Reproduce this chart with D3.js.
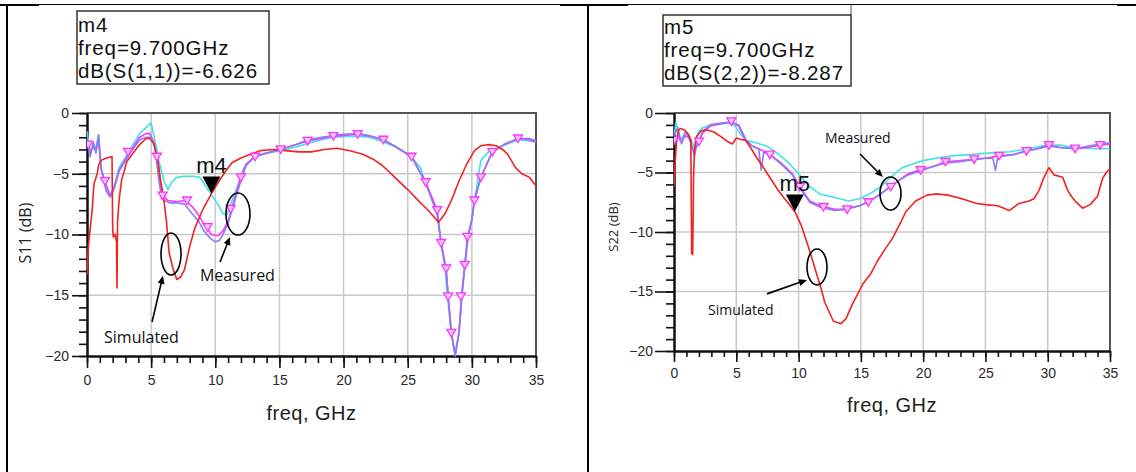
<!DOCTYPE html>
<html>
<head>
<meta charset="utf-8">
<script src="https://cdn.jsdelivr.net/npm/d3@7.9.0/dist/d3.min.js"></script>
<style>
  body { margin: 0; background: #fff; }
  svg { display: block; }
</style>
</head>
<body>
<div id="chart"></div>
<script>
// ---- S11 panel (left) ----
const s11SimF = [0, 0.1, 0.25, 0.4, 0.5, 0.55, 0.8, 0.9, 1.1, 1.5, 1.95, 2.0, 2.05, 2.2, 2.3, 2.34, 2.38, 2.5, 2.7, 2.9, 3.1, 3.6, 4.1, 4.6, 4.9, 5.2, 5.5, 5.7, 6.0, 6.2, 6.4, 6.7, 7.0, 7.3, 7.6, 8.0, 8.4, 9.0, 9.7, 10.3, 10.8, 11.3, 12.0, 12.5, 13.5, 14.5, 15.5, 16.5, 17.5, 18.5, 19.5, 20.5, 21.5, 22.3, 23.0, 24.0, 25.0, 26.0, 26.5, 27.0, 27.4, 27.9, 28.4, 29.0, 29.6, 30.2, 30.7, 31.3, 31.9, 32.4, 32.8, 33.4, 33.9, 34.5, 35];
const s11SimDb = [-13.3, -11, -9.5, -8, -6.5, -5.8, -5.0, -4.3, -3.9, -3.7, -3.6, -9.5, -10.2, -10.0, -10.6, -14.4, -9.0, -7.2, -5.5, -4.8, -4.0, -3.3, -2.6, -2.1, -2.1, -2.5, -3.8, -5.3, -7.2, -9.0, -11.5, -12.8, -13.7, -13.5, -12.9, -11.0, -9.5, -8.0, -6.63, -5.6, -4.8, -4.1, -3.7, -3.5, -3.1, -3.0, -3.1, -3.2, -3.2, -3.0, -2.9, -3.1, -3.4, -3.8, -4.3, -5.3, -6.3, -7.4, -7.9, -8.5, -9.0, -8.3, -7.2, -5.6, -4.2, -3.1, -2.7, -2.6, -2.7, -3.0, -3.4, -4.5, -5.0, -5.3, -6.0];

const s11CyanF = [0, 0.25, 0.5, 0.7, 0.9, 1.1, 1.5, 1.8, 2.1, 2.5, 3.3, 4.1, 4.6, 5.0, 5.3, 5.6, 6.0, 6.3, 6.6, 7.0, 7.6, 8.3, 8.8, 9.3, 9.8, 10.2, 10.6, 10.9, 11.2, 11.7, 12.2, 13.1, 14.0, 15.1, 16.3, 17.2, 18.3, 19.2, 20.0, 20.9, 22.0, 22.9, 24.1, 25.3, 26.0, 26.4, 26.9, 27.3, 27.6, 27.9, 28.1, 28.4, 28.7, 29.0, 29.2, 29.5, 29.7, 30.0, 30.2, 30.5, 30.7, 31.3, 32.2, 33.1, 33.8, 34.5, 35];
const s11CyanDb = [-1.5, -3.3, -2.5, -2.9, -1.8, -4.5, -6.4, -6.9, -6.1, -4.5, -3.1, -1.7, -1.2, -0.8, -2.3, -3.9, -5.6, -6.3, -5.7, -5.3, -5.2, -5.2, -5.3, -6.1, -6.9, -7.5, -8.3, -8.4, -7.5, -6.1, -4.6, -3.5, -3.3, -3.1, -2.8, -2.5, -2.2, -2.0, -1.95, -1.9, -2.0, -2.3, -2.8, -3.6, -4.5, -5.8, -7.0, -8.3, -10.7, -12.7, -15.1, -18.1, -19.9, -18.1, -15.0, -12.4, -10.2, -8.8, -7.2, -5.3, -3.9, -3.2, -2.8, -2.4, -2.2, -2.3, -2.4];

const s11MagF = [0, 0.25, 0.5, 0.7, 0.9, 1.1, 1.5, 1.8, 2.1, 2.5, 3.3, 4.1, 4.6, 4.9, 5.2, 5.5, 5.8, 6.0, 6.3, 7.0, 7.6, 8.2, 8.7, 9.1, 9.7, 10.2, 10.6, 11.0, 11.3, 11.9, 12.4, 13.1, 14.0, 15.1, 16.3, 17.2, 18.3, 19.2, 20.0, 21.1, 22.0, 23.1, 24.1, 25.3, 26.4, 27.3, 27.6, 28.0, 28.15, 28.4, 28.7, 29.0, 29.2, 29.45, 29.65, 30.0, 30.2, 30.7, 31.6, 32.5, 33.6, 34.5, 35];
const s11MagDb = [-2.5, -3.2, -2.8, -3.1, -2.2, -4.6, -5.9, -6.8, -6.2, -4.7, -3.3, -2.0, -1.7, -1.7, -2.4, -3.8, -6.3, -6.9, -7.2, -7.3, -7.2, -7.7, -8.4, -9.1, -10.0, -10.1, -9.7, -8.9, -7.8, -5.6, -4.2, -3.6, -3.3, -3.0, -2.6, -2.3, -2.1, -1.9, -1.85, -1.75, -1.9, -2.2, -2.8, -3.6, -5.7, -8.0, -10.7, -12.8, -15.1, -18.1, -19.9, -18.1, -15.0, -12.5, -10.2, -8.8, -7.2, -5.3, -3.2, -2.6, -2.1, -2.2, -2.4];

const s11PurF = [0, 0.25, 0.5, 0.7, 0.9, 1.1, 1.5, 1.8, 2.1, 2.5, 3.3, 4.1, 4.6, 5.0, 5.3, 5.6, 5.8, 6.0, 6.5, 7.0, 7.6, 8.2, 8.7, 9.1, 9.6, 10.0, 10.3, 10.6, 11.0, 11.3, 11.9, 12.4, 13.1, 14.0, 15.1, 16.3, 17.2, 18.3, 19.2, 20.0, 21.1, 22.0, 23.1, 24.1, 25.3, 26.4, 27.3, 27.6, 28.0, 28.4, 28.7, 29.0, 29.45, 29.7, 30.0, 30.2, 30.7, 31.6, 32.5, 33.6, 34.5, 35];
const s11PurDb = [-2.0, -3.6, -2.4, -3.3, -1.8, -4.6, -6.4, -6.9, -6.3, -4.8, -3.4, -2.2, -2.0, -2.0, -2.9, -5.5, -6.9, -7.2, -7.4, -7.4, -7.5, -8.3, -8.9, -9.7, -10.3, -10.6, -10.5, -10.0, -9.1, -8.0, -5.9, -4.3, -3.6, -3.3, -3.0, -2.6, -2.2, -2.0, -1.85, -1.75, -1.7, -1.85, -2.2, -2.8, -3.6, -5.8, -8.3, -10.7, -13.0, -18.1, -20.0, -18.0, -12.5, -10.2, -8.8, -7.2, -5.3, -3.2, -2.6, -2.1, -2.1, -2.3];

const s11MarkF = [0.1, 1.4, 3.2, 5.45, 5.9, 7.8, 9.4, 11.2, 12.0, 13.1, 15.1, 17.2, 19.2, 21.1, 23.1, 25.3, 26.4, 27.3, 27.6, 28.0, 28.15, 28.4, 29.15, 29.45, 29.65, 30.2, 30.7, 31.6, 33.6];
const s11MarkDb = [-2.6, -5.6, -3.2, -3.6, -6.8, -7.2, -9.4, -7.9, -5.3, -3.6, -3.0, -2.3, -1.9, -1.75, -2.2, -3.6, -5.7, -8.0, -10.7, -12.8, -15.1, -18.1, -15.1, -12.5, -10.2, -7.2, -5.3, -3.2, -2.1];

// ---- S22 panel (right) ----
const s22SimF = [0, 0.1, 0.2, 0.35, 0.5, 0.8, 1.1, 1.35, 1.42, 1.5, 1.58, 1.65, 1.8, 2.2, 2.6, 3.2, 3.8, 4.3, 4.7, 5.0, 5.3, 5.75, 6.2, 6.6, 7.0, 7.5, 8.0, 8.3, 8.8, 9.2, 9.7, 10.2, 10.65, 11.1, 11.5, 11.8, 12.1, 12.4, 12.8, 13.1, 13.4, 13.8, 14.3, 14.9, 15.2, 15.8, 16.3, 16.9, 17.5, 18.2, 18.6, 19.4, 20.3, 21.0, 22.0, 23.1, 24.3, 25.0, 26.0, 26.9, 27.7, 28.5, 28.9, 29.3, 29.7, 30.1, 30.5, 31.2, 31.6, 31.9, 32.2, 32.8, 33.4, 34.0, 34.4, 34.7, 35];
const s22SimDb = [-6.2, -4.0, -2.5, -1.5, -1.3, -1.4, -1.7, -2.3, -11.8, -11.9, -5.0, -3.0, -2.0, -1.5, -1.4, -1.6, -2.0, -2.4, -2.6, -2.1, -2.2, -2.3, -3.0, -3.7, -4.3, -5.1, -5.9, -6.4, -7.1, -7.6, -8.29, -9.4, -10.8, -12.3, -13.7, -14.7, -15.9, -16.6, -17.5, -17.6, -17.7, -17.3, -16.1, -14.9, -14.3, -13.5, -12.5, -11.5, -10.6, -9.2, -8.3, -7.4, -6.9, -6.8, -6.9, -7.2, -7.6, -7.7, -7.8, -8.2, -7.6, -7.4, -7.2, -6.5, -5.4, -4.6, -5.2, -5.4, -6.5, -7.0, -7.4, -8.0, -7.7, -7.0, -5.5, -5.0, -4.7];

const s22CyanF = [0, 0.15, 0.5, 0.9, 1.2, 1.5, 1.7, 1.9, 2.2, 2.9, 3.8, 4.3, 4.9, 5.3, 5.75, 6.6, 7.5, 8.3, 9.2, 10.0, 10.9, 11.7, 12.9, 14.0, 14.9, 15.7, 16.6, 17.4, 18.3, 19.1, 20.0, 21.0, 22.3, 23.7, 24.4, 25.5, 27.0, 28.5, 29.9, 31.0, 32.2, 33.7, 35];
const s22CyanDb = [-2.0, -0.8, -2.3, -1.7, -1.8, -2.5, -3.1, -1.7, -1.3, -1.0, -0.9, -0.85, -1.1, -1.7, -2.3, -2.5, -2.8, -3.4, -4.2, -5.1, -6.2, -6.8, -7.1, -7.4, -7.2, -6.8, -6.2, -5.4, -4.6, -4.3, -4.0, -3.8, -3.6, -3.5, -3.45, -3.35, -3.25, -3.0, -2.7, -2.7, -2.9, -3.0, -3.0];

const s22MagF = [0, 0.3, 0.6, 0.9, 1.2, 1.6, 2.0, 2.3, 2.9, 3.8, 4.6, 5.2, 5.75, 6.3, 7.0, 7.7, 8.6, 9.5, 10.3, 10.9, 11.7, 12.9, 13.7, 14.9, 15.7, 16.6, 17.1, 18.0, 18.8, 19.7, 20.8, 21.8, 23.0, 24.1, 25.0, 26.1, 27.2, 28.3, 29.2, 30.1, 31.0, 32.2, 33.2, 34.2, 35];
const s22MagDb = [-2.3, -1.9, -2.5, -1.9, -2.1, -3.3, -2.4, -1.7, -1.1, -0.9, -0.75, -1.1, -2.3, -2.8, -3.1, -3.5, -4.2, -5.1, -6.5, -7.4, -7.8, -8.1, -8.1, -7.8, -7.4, -6.8, -6.4, -5.7, -5.1, -4.8, -4.5, -4.1, -4.0, -3.9, -3.8, -3.6, -3.5, -3.2, -3.0, -2.7, -2.9, -3.0, -2.9, -2.7, -2.6];

const s22PurF = [0, 0.3, 0.6, 0.9, 1.2, 1.5, 1.65, 1.8, 2.0, 2.3, 2.9, 3.8, 4.6, 5.2, 5.75, 6.3, 6.8, 7.0, 7.2, 7.7, 8.6, 9.5, 10.3, 10.9, 11.7, 12.9, 13.7, 14.9, 15.7, 16.6, 17.1, 18.0, 18.8, 19.7, 20.8, 21.8, 23.0, 24.1, 25.0, 25.6, 25.8, 26.0, 27.2, 28.3, 29.2, 30.1, 31.0, 32.2, 33.2, 34.2, 35];
const s22PurDb = [-2.0, -1.2, -2.6, -1.6, -2.0, -3.0, -3.6, -2.8, -2.3, -1.6, -1.0, -0.85, -0.75, -1.0, -2.2, -2.8, -3.0, -4.8, -3.3, -3.5, -4.3, -5.2, -6.6, -7.5, -7.9, -8.2, -8.1, -7.8, -7.4, -6.8, -6.4, -5.7, -5.2, -4.9, -4.5, -4.2, -4.1, -3.9, -3.8, -3.8, -4.8, -3.7, -3.5, -3.2, -3.0, -2.8, -2.9, -3.0, -2.8, -2.6, -2.5];

const s22MarkF = [0, 2.0, 4.6, 7.7, 10.1, 12.0, 13.9, 15.6, 17.4, 19.8, 21.8, 24.1, 26.1, 28.3, 30.1, 32.2, 34.2];
const s22MarkDb = [-2.3, -2.4, -0.7, -3.5, -6.2, -7.9, -8.1, -7.5, -6.2, -4.8, -4.1, -3.9, -3.6, -3.2, -2.7, -3.0, -2.7];

// axes
const freqTicks = [0, 5, 10, 15, 20, 25, 30, 35];
const dbTicks = [0, -5, -10, -15, -20];
const markerFreq = 9.7;

const FONT = "'Liberation Sans', Arial, sans-serif";
const ANNOT_FONT = "'Open Sans', 'Liberation Sans', sans-serif";
const colors = { sim: "#f22222", cyan: "#3fe3e3", mag: "#ff33ff", pur: "#8a7cf5" };

const svg = d3.select("#chart").append("svg")
  .attr("width", 1136).attr("height", 472)
  .style("background", "#fff");

// page frame (table borders)
const frame = svg.append("g").attr("stroke", "#000").attr("fill", "none");
frame.append("line").attr("x1", 0).attr("x2", 1136).attr("y1", 4.5).attr("y2", 4.5).attr("stroke-width", 1);
[[0, 39], [560, 628], [1117, 1136]].forEach(([a, b]) =>
  frame.append("line").attr("x1", a).attr("x2", b).attr("y1", 5).attr("y2", 5).attr("stroke-width", 2));
frame.append("line").attr("x1", 7).attr("x2", 7).attr("y1", 4).attr("y2", 472).attr("stroke-width", 2);
frame.append("line").attr("x1", 588).attr("x2", 588).attr("y1", 4).attr("y2", 472).attr("stroke-width", 2);
frame.append("line").attr("x1", 851).attr("x2", 851).attr("y1", 5).attr("y2", 15).attr("stroke", "#555").attr("stroke-width", 1);

const pairs = (f, v) => f.map((d, i) => [d, v[i]]).filter(d => d[1] !== undefined);

function drawPanel(p) {
  const x = d3.scaleLinear().domain([0, 35]).range([p.left, p.right]);
  const y = d3.scaleLinear().domain([-20, 0]).range([p.bottom, p.top]);
  const g = svg.append("g");

  svg.append("clipPath").attr("id", "clip-" + p.id).append("rect")
    .attr("x", p.left).attr("y", p.top - 6)
    .attr("width", p.right - p.left + 3).attr("height", p.bottom - p.top + 8);

  // grid
  g.append("g").selectAll("line").data(freqTicks.slice(1, -1)).join("line")
    .attr("x1", d => x(d)).attr("x2", d => x(d)).attr("y1", p.top).attr("y2", p.bottom)
    .attr("stroke", "#c9c9c9").attr("stroke-width", 1.5);
  g.append("g").selectAll("line").data(dbTicks.slice(1, -1)).join("line")
    .attr("x1", p.left).attr("x2", p.right).attr("y1", d => y(d)).attr("y2", d => y(d))
    .attr("stroke", "#c9c9c9").attr("stroke-width", 1.5);

  // frame top/right
  g.append("path")
    .attr("d", `M${p.left},${p.top}H${p.right}V${p.bottom}`)
    .attr("fill", "none").attr("stroke", "#555").attr("stroke-width", 2);

  // axes
  const minorX = d3.axisBottom(x).tickValues(d3.range(0, 36, 1)).tickSize(p.xMinor).tickSizeOuter(0).tickFormat("");
  const majorX = d3.axisBottom(x).tickValues(freqTicks).tickSize(p.xMajor).tickSizeOuter(0).tickPadding(p.xPad);
  const minorY = d3.axisLeft(y).tickValues(d3.range(-20, 1, 1)).tickSize(p.yMinor).tickSizeOuter(0).tickFormat("");
  const majorY = d3.axisLeft(y).tickValues(dbTicks).tickSize(p.yMajor).tickSizeOuter(0).tickPadding(p.yPad);

  [minorX, majorX].forEach(ax => {
    const a = g.append("g").attr("transform", `translate(0,${p.bottom})`).call(ax);
    a.select(".domain").attr("stroke", "#111").attr("stroke-width", 2);
    a.selectAll(".tick line").attr("stroke", "#111").attr("stroke-width", 1.6);
    a.selectAll("text").attr("font-family", FONT).attr("font-size", 14).attr("fill", "#2a2a2a");
  });
  [minorY, majorY].forEach(ax => {
    const a = g.append("g").attr("transform", `translate(${p.left},0)`).call(ax);
    a.select(".domain").attr("stroke", "#111").attr("stroke-width", 2);
    a.selectAll(".tick line").attr("stroke", "#111").attr("stroke-width", 1.6);
    a.selectAll("text").attr("font-family", FONT).attr("font-size", 14).attr("fill", "#2a2a2a");
  });

  // axis titles
  svg.append("text")
    .attr("x", (p.left + p.right) / 2).attr("y", p.xTitleY)
    .attr("text-anchor", "middle").attr("font-family", FONT).attr("font-size", 20)
    .attr("letter-spacing", 0.5).attr("fill", "#222")
    .text("freq, GHz");
  svg.append("text")
    .attr("transform", `translate(${p.yTitleX},${p.yTitleY}) rotate(-90)`)
    .attr("text-anchor", "middle").attr("font-family", ANNOT_FONT).attr("font-size", p.yTitleSize)
    .attr("fill", "#222")
    .text(p.yTitle);

  // curves
  const line = d3.line().x(d => x(d[0])).y(d => y(d[1]));
  const curves = g.append("g").attr("clip-path", `url(#clip-${p.id})`);
  p.series.forEach(s => {
    curves.append("path")
      .datum(pairs(s.f, s.db))
      .attr("d", line)
      .attr("fill", "none")
      .attr("stroke", s.color)
      .attr("stroke-width", 1.6)
      .attr("stroke-linejoin", "round");
  });

  // measured data markers (down triangles)
  curves.append("g").selectAll("path").data(pairs(p.markF, p.markDb)).join("path")
    .attr("transform", d => `translate(${x(d[0])},${y(d[1])})`)
    .attr("d", "M-4.5,-3.5L4.5,-3.5L0,4Z")
    .attr("fill", "#ffc8ff").attr("stroke", colors.mag).attr("stroke-width", 1.3);

  // marker (m4 / m5)
  const mx = x(markerFreq), my = y(p.markerValue);
  g.append("path")
    .attr("d", `M${mx - 9},${my - 17}L${mx + 9},${my - 17}L${mx},${my}Z`)
    .attr("fill", "#000");
  g.append("text")
    .attr("x", mx).attr("y", my - 21)
    .attr("text-anchor", "middle").attr("font-family", FONT).attr("font-size", 22)
    .attr("fill", "#111")
    .text(p.markerName);

  // readout box
  const b = p.box;
  svg.append("rect")
    .attr("x", b.x).attr("y", b.y).attr("width", b.w).attr("height", b.h)
    .attr("fill", "#fff").attr("stroke", "#333").attr("stroke-width", 1.5);
  const lines = [p.markerName, `freq=${markerFreq.toFixed(3)}GHz`, `dB(${p.param})=${p.markerValue.toFixed(3)}`];
  svg.append("g").selectAll("text").data(lines).join("text")
    .attr("x", b.x + 1).attr("y", (d, i) => b.y + b.base + i * 23)
    .attr("font-family", FONT).attr("font-size", 20.5).attr("letter-spacing", 0.9)
    .attr("fill", "#111")
    .text(d => d);

  // annotations: ellipses, arrows, labels
  const ann = svg.append("g");
  p.ellipses.forEach(e => {
    ann.append("ellipse")
      .attr("cx", x(e.f)).attr("cy", y(e.db)).attr("rx", e.rx).attr("ry", e.ry)
      .attr("fill", "none").attr("stroke", "#000").attr("stroke-width", 1.6);
  });
  p.arrows.forEach(a => {
    const x1 = x(a.from[0]), y1 = y(a.from[1]), x2 = x(a.to[0]), y2 = y(a.to[1]);
    const ang = Math.atan2(y2 - y1, x2 - x1);
    ann.append("line")
      .attr("x1", x1).attr("y1", y1)
      .attr("x2", x2 - 5 * Math.cos(ang)).attr("y2", y2 - 5 * Math.sin(ang))
      .attr("stroke", "#000").attr("stroke-width", 1.6);
    const hl = 8, hw = 3.5;
    const bx = x2 - hl * Math.cos(ang), by = y2 - hl * Math.sin(ang);
    ann.append("path")
      .attr("d", `M${x2},${y2}L${bx - hw * Math.sin(ang)},${by + hw * Math.cos(ang)}L${bx + hw * Math.sin(ang)},${by - hw * Math.cos(ang)}Z`)
      .attr("fill", "#000");
  });
  p.labels.forEach(l => {
    ann.append("text")
      .attr("x", x(l.f)).attr("y", y(l.db))
      .attr("font-family", ANNOT_FONT).attr("font-size", l.size)
      .attr("fill", "#111")
      .text(l.text);
  });
}

drawPanel({
  id: "s11", left: 87, right: 536, top: 113, bottom: 356,
  xMinor: 7, xMajor: 12, xPad: 7, yMinor: 8, yMajor: 15, yPad: 3,
  xTitleY: 420, yTitleX: 31, yTitleY: 233, yTitleSize: 16, yTitle: "S11 (dB)",
  series: [
    { f: s11CyanF, db: s11CyanDb, color: colors.cyan },
    { f: s11MagF, db: s11MagDb, color: colors.mag },
    { f: s11PurF, db: s11PurDb, color: colors.pur },
    { f: s11SimF, db: s11SimDb, color: colors.sim }
  ],
  markF: s11MarkF, markDb: s11MarkDb,
  markerName: "m4", markerValue: -6.626, param: "S(1,1)",
  box: { x: 77, y: 11, w: 192, h: 73, base: 21 },
  ellipses: [
    { f: 6.55, db: -11.6, rx: 10, ry: 21 },
    { f: 11.77, db: -8.31, rx: 12, ry: 21 }
  ],
  arrows: [
    { from: [5.07, -17.2], to: [5.92, -13.4] },
    { from: [10.37, -12.26], to: [11.15, -10.2] }
  ],
  labels: [
    { text: "Simulated", f: 1.33, db: -18.9, size: 16 },
    { text: "Measured", f: 8.8, db: -13.8, size: 16 }
  ]
});

drawPanel({
  id: "s22", left: 674, right: 1110, top: 113, bottom: 351,
  xMinor: 6, xMajor: 11, xPad: 6, yMinor: 8, yMajor: 19, yPad: 2,
  xTitleY: 412, yTitleX: 618, yTitleY: 227, yTitleSize: 13, yTitle: "S22 (dB)",
  series: [
    { f: s22CyanF, db: s22CyanDb, color: colors.cyan },
    { f: s22MagF, db: s22MagDb, color: colors.mag },
    { f: s22PurF, db: s22PurDb, color: colors.pur },
    { f: s22SimF, db: s22SimDb, color: colors.sim }
  ],
  markF: s22MarkF, markDb: s22MarkDb,
  markerName: "m5", markerValue: -8.287, param: "S(2,2)",
  box: { x: 663, y: 15, w: 188, h: 71, base: 19 },
  ellipses: [
    { f: 17.38, db: -6.76, rx: 10.5, ry: 16.5 },
    { f: 11.48, db: -12.94, rx: 10, ry: 18 }
  ],
  arrows: [
    { from: [14.93, -3.45], to: [16.77, -5.38] },
    { from: [7.46, -15.2], to: [10.67, -14.03] }
  ],
  labels: [
    { text: "Measured", f: 12.12, db: -2.52, size: 14 },
    { text: "Simulated", f: 2.73, db: -16.97, size: 14 }
  ]
});
</script>
</body>
</html>
